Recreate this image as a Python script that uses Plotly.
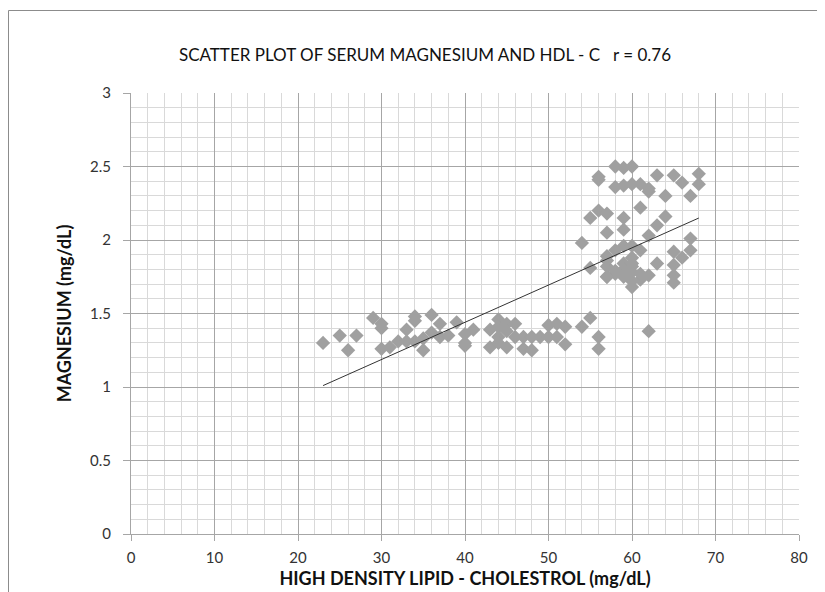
import plotly.graph_objects as go
import numpy as np

# HDL-C (mg/dL) and serum magnesium (mg/dL)
hdl = [23, 25, 26, 27, 29, 30, 30, 30, 31, 32, 33, 33, 34, 34, 34, 35, 35, 36, 36, 37,
       37, 38, 39, 40, 40, 40, 41, 43, 43, 44, 44, 44, 44, 45, 45, 45, 46, 46, 47, 47,
       48, 48, 49, 50, 50, 51, 51, 52, 52, 54, 55, 56, 56, 62,
       58, 59, 60, 56, 56, 63, 65, 66, 68, 68, 58, 59, 60, 61, 62, 62, 64, 67, 61, 56,
       57, 55, 59, 64, 63, 59, 57, 54, 62, 67, 67, 65, 66, 63, 65, 55, 65, 65,
       57, 58, 59, 60, 61, 60, 59, 57, 60, 60, 57, 58, 57, 59, 60, 60, 61, 62, 61, 57,
       59, 58, 60]
mg = [1.30, 1.35, 1.25, 1.35, 1.47, 1.43, 1.40, 1.26, 1.27, 1.31, 1.39, 1.31, 1.48, 1.45, 1.31, 1.25, 1.33, 1.49, 1.37, 1.43,
      1.34, 1.35, 1.44, 1.36, 1.28, 1.30, 1.39, 1.39, 1.27, 1.46, 1.41, 1.34, 1.30, 1.43, 1.38, 1.27, 1.43, 1.34, 1.34, 1.26,
      1.25, 1.34, 1.34, 1.42, 1.34, 1.43, 1.34, 1.41, 1.29, 1.41, 1.47, 1.34, 1.26, 1.38,
      2.50, 2.49, 2.50, 2.43, 2.41, 2.44, 2.44, 2.39, 2.45, 2.38, 2.36, 2.37, 2.38, 2.38, 2.33, 2.35, 2.30, 2.30, 2.22, 2.20,
      2.18, 2.15, 2.15, 2.16, 2.10, 2.07, 2.05, 1.98, 2.03, 2.01, 1.93, 1.92, 1.88, 1.84, 1.83, 1.81, 1.76, 1.71,
      1.89, 1.93, 1.96, 1.96, 1.93, 1.88, 1.84, 1.82, 1.82, 1.84, 1.75, 1.77, 1.75, 1.75, 1.72, 1.68, 1.73, 1.76, 1.77, 1.86,
      1.80, 1.79, 1.78]

# linear trend line coefficients
trend_slope = 0.02533
trend_intercept = 0.427

x_ticks = [0, 10, 20, 30, 40, 50, 60, 70, 80]
y_ticks = [0, 0.5, 1, 1.5, 2, 2.5, 3]

tx = np.array([min(hdl), max(hdl)])
ty = trend_slope * tx + trend_intercept

fig = go.Figure()
fig.add_trace(go.Scatter(
    x=hdl, y=mg, mode="markers",
    marker=dict(symbol="diamond", size=11, color="#A0A0A0", line=dict(width=0)),
    showlegend=False, cliponaxis=False))
fig.add_trace(go.Scatter(
    x=tx, y=ty, mode="lines", line=dict(color="#333333", width=1),
    showlegend=False))

font_family = "Lato, 'Open Sans', sans-serif"

fig.update_xaxes(
    range=[0, 80], tickvals=x_ticks, ticktext=[str(v) for v in x_ticks],
    showgrid=True, gridcolor="#A6A6A6", gridwidth=1,
    minor=dict(dtick=2, showgrid=True, gridcolor="#D9D9D9", gridwidth=1),
    showline=True, linecolor="#A6A6A6", linewidth=1,
    ticks="outside", ticklen=6, tickcolor="#A6A6A6",
    ticklabelstandoff=4,
    tickfont=dict(family=font_family, size=15, color="#333333"),
    zeroline=False, mirror=False,
    title=dict(text="<b>HIGH DENSITY LIPID - CHOLESTROL (mg/dL)</b>",
               font=dict(family=font_family, size=18, color="#111111"), standoff=7))
fig.update_yaxes(
    range=[0, 3], tickvals=y_ticks, ticktext=[str(v) for v in y_ticks],
    showgrid=True, gridcolor="#A6A6A6", gridwidth=1,
    minor=dict(dtick=0.1, showgrid=True, gridcolor="#D9D9D9", gridwidth=1),
    showline=True, linecolor="#A6A6A6", linewidth=1,
    ticks="outside", ticklen=7, tickcolor="#A6A6A6",
    ticklabelstandoff=9,
    tickfont=dict(family=font_family, size=15, color="#333333"),
    zeroline=False,
    title=dict(text="<b>MAGNESIUM (mg/dL)</b>",
               font=dict(family=font_family, size=18, color="#111111"), standoff=13))

# page body adds an 8px offset; target plot area: x 131..799, y 93..534 on screen
OFF = 8
W, H = 825 - OFF, 592 - OFF
L, T = 131 - OFF, 93 - OFF
pw, ph = 668, 441
R, B = W - L - pw, H - T - ph


def px_x(p):
    return (p - OFF - L) / pw


def px_y(p):
    return (T + ph - (p - OFF)) / ph


fig.add_shape(type="rect", xref="paper", yref="paper",
              x0=px_x(8.5), x1=px_x(840), y0=px_y(640), y1=px_y(10.5),
              line=dict(color="#8C8C8C", width=1), fillcolor="rgba(0,0,0,0)", layer="below")

fig.update_layout(
    width=W, height=H,
    margin=dict(l=L, r=R, t=T, b=B, autoexpand=False),
    paper_bgcolor="white", plot_bgcolor="white",
    title=dict(text="SCATTER PLOT OF SERUM MAGNESIUM AND HDL - C&nbsp;&nbsp;&nbsp;r = 0.76",
               x=(425 - OFF) / W, xanchor="center", xref="container",
               y=1 - (55 - OFF) / H, yanchor="middle", yref="container",
               font=dict(family=font_family, size=17, color="#111111")),
)

fig.write_html("out.html")
